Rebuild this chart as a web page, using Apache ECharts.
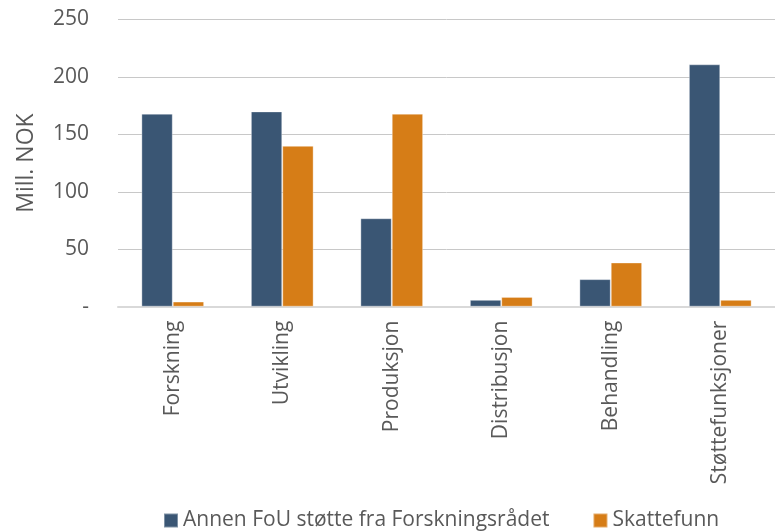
<!DOCTYPE html>
<html><head><meta charset="utf-8">
<script src="https://cdn.jsdelivr.net/npm/echarts@6/dist/echarts.min.js"></script>
<style>html,body{margin:0;padding:0;background:#fff}#c{width:775px;height:531px}</style>
</head><body><div id="c"></div>
<script>
const categories = ['Forskning','Utvikling','Produksjon','Distribusjon','Behandling','Støttefunksjoner'];
const seriesNames = ['Annen FoU støtte fra Forskningsrådet','Skattefunn'];
const annenFoU = [168, 170, 77, 6, 24, 211];
const skattefunn = [4.5, 140, 168, 8.5, 38.5, 6];
const yMin = 0, yMax = 250, yInterval = 50;
const yTitle = 'Mill. NOK';

const font = '"Open Sans", sans-serif';
const chart = echarts.init(document.getElementById('c'));
chart.setOption({
  animation: false,
  textStyle: {fontFamily: font},
  grid: {left: 118, right: -3, top: 19.5, bottom: 224.3},
  legend: {
    top: 505, left: 158, itemGap: 43, itemWidth: 14, itemHeight: 14,
    icon: 'rect',
    textStyle: {fontSize: 21, color: '#595959', fontFamily: font},
    data: seriesNames
  },
  xAxis: {
    type: 'category', data: categories,
    axisLine: {lineStyle: {color: '#d9d9d9', width: 2}},
    axisTick: {show: false},
    axisLabel: {rotate: 90, fontSize: 21, color: '#595959', margin: 14, fontFamily: font}
  },
  yAxis: {
    type: 'value', min: yMin, max: yMax, interval: yInterval,
    name: yTitle, nameLocation: 'middle', nameGap: 80, nameRotate: 90,
    nameTextStyle: {fontSize: 23, color: '#595959', fontFamily: font},
    axisLine: {show: false}, axisTick: {show: false},
    splitLine: {lineStyle: {color: '#c8c8c8', width: 1}},
    axisLabel: {fontSize: 21, color: '#595959', margin: 29, fontFamily: font,
      formatter: v => v === 0 ? '-' : String(v)}
  },
  series: [
    {name: seriesNames[0], type: 'bar', data: annenFoU, barGap: 0, barCategoryGap: '42.7%',
     itemStyle: {color: '#3a5674', borderColor: 'rgba(255,255,255,0.35)', borderWidth: 1}},
    {name: seriesNames[1], type: 'bar', data: skattefunn,
     itemStyle: {color: '#d67d17', borderColor: 'rgba(255,255,255,0.35)', borderWidth: 1}}
  ]
});
</script></body></html>
